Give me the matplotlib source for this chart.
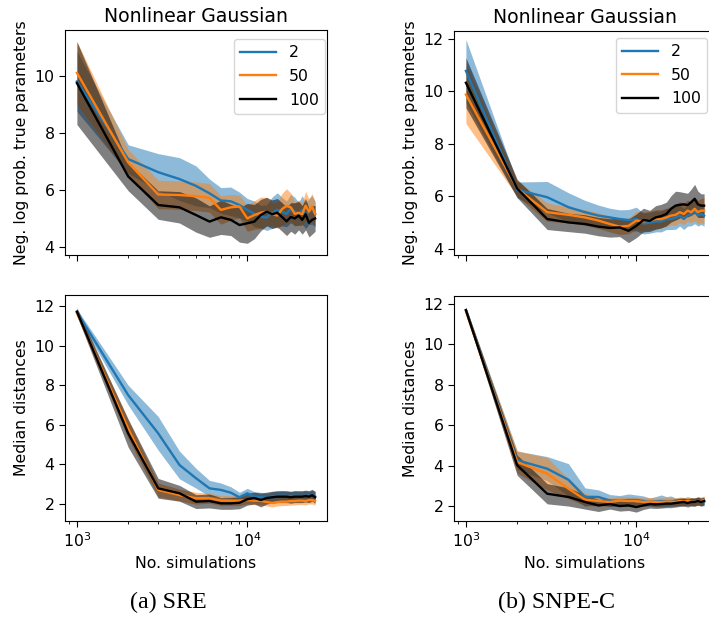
import numpy as np
import matplotlib
matplotlib.use('Agg')
import matplotlib.pyplot as plt

# numero de simulacoes (eixo x, log)
n_sims = [1000, 2000, 3000, 4000, 5000, 6000, 7000, 8000, 9000, 10000,
          11000, 12000, 13000, 14000, 15000, 16000, 17000, 18000, 19000,
          20000, 21000, 22000, 23000, 24000, 25000]
labels = ['2', '50', '100']

# SRE - neg. log prob. true parameters
sre_nlp_2 = [9.8, 7.08, 6.62, 6.38, 6.14, 5.88, 5.63, 5.6, 5.47, 5.3, 5.16, 5.06, 5.03,
             5.2, 5.3, 5.24, 5.16, 5.35, 5.24, 5.16, 5.3, 5.1, 5.24, 5.3, 5.16]
sre_nlp_2_sd = [1.05, 0.5, 0.65, 0.75, 0.7, 0.5, 0.45, 0.5, 0.45, 0.4, 0.45, 0.4, 0.45,
                0.55, 0.6, 0.5, 0.45, 0.5, 0.5, 0.4, 0.5, 0.45, 0.45, 0.5, 0.45]
sre_nlp_50 = [10.1, 6.96, 5.84, 5.82, 5.78, 5.72, 5.3, 5.39, 5.42, 5.0, 5.12, 5.2, 5.24,
              5.16, 5.1, 5.33, 5.44, 5.39, 5.16, 5.2, 5.15, 5.45, 5.24, 5.42, 5.16]
sre_nlp_50_sd = [1.1, 0.45, 0.5, 0.5, 0.5, 0.5, 0.5, 0.45, 0.4, 0.45, 0.5, 0.55, 0.5,
                 0.4, 0.45, 0.55, 0.6, 0.5, 0.4, 0.45, 0.4, 0.5, 0.45, 0.45, 0.4]
sre_nlp_100 = [9.74, 6.47, 5.47, 5.39, 5.12, 4.89, 5.04, 4.95, 4.77, 4.83, 4.89, 5.12, 5.24,
               5.15, 5.2, 5.05, 4.9, 5.05, 5.0, 5.1, 4.95, 5.15, 4.85, 4.95, 5.0]
sre_nlp_100_sd = [1.45, 0.5, 0.5, 0.55, 0.6, 0.55, 0.6, 0.55, 0.6, 0.7, 0.6, 0.55, 0.5,
                  0.5, 0.5, 0.5, 0.5, 0.5, 0.55, 0.5, 0.5, 0.55, 0.5, 0.5, 0.45]

# SNPE-C - neg. log prob. true parameters
snpe_nlp_2 = [10.78, 6.25, 5.97, 5.59, 5.4, 5.27, 5.2, 5.14, 5.1, 5.14, 4.97, 5.0, 5.05,
              5.05, 5.14, 5.14, 5.2, 5.27, 5.14, 5.27, 5.33, 5.46, 5.27, 5.33, 5.27]
snpe_nlp_2_sd = [1.2, 0.3, 0.6, 0.55, 0.45, 0.4, 0.35, 0.35, 0.4, 0.45, 0.4, 0.4, 0.4,
                 0.4, 0.4, 0.4, 0.45, 0.4, 0.4, 0.4, 0.45, 0.5, 0.4, 0.4, 0.4]
snpe_nlp_50 = [9.88, 6.3, 5.4, 5.3, 5.2, 5.08, 4.95, 4.85, 4.88, 5.08, 5.05, 5.08, 5.14,
               5.14, 5.2, 5.27, 5.3, 5.4, 5.33, 5.46, 5.4, 5.53, 5.4, 5.46, 5.46]
snpe_nlp_50_sd = [1.1, 0.3, 0.35, 0.3, 0.3, 0.3, 0.3, 0.3, 0.3, 0.35, 0.35, 0.35, 0.35,
                  0.35, 0.35, 0.35, 0.4, 0.4, 0.4, 0.4, 0.4, 0.45, 0.45, 0.45, 0.5]
snpe_nlp_100 = [10.33, 6.3, 5.14, 5.01, 4.95, 4.85, 4.8, 4.82, 4.69, 4.88, 5.1, 5.07, 5.2,
                5.25, 5.33, 5.53, 5.65, 5.68, 5.7, 5.67, 5.78, 5.91, 5.7, 5.65, 5.65]
snpe_nlp_100_sd = [0.95, 0.35, 0.4, 0.35, 0.35, 0.35, 0.35, 0.35, 0.45, 0.45, 0.45, 0.4, 0.45,
                   0.45, 0.45, 0.5, 0.55, 0.5, 0.45, 0.45, 0.5, 0.55, 0.5, 0.45, 0.45]

# SRE - median distances
sre_md_2 = [11.7, 7.5, 5.57, 3.97, 3.3, 2.79, 2.71, 2.57, 2.34, 2.54, 2.37, 2.34, 2.3,
            2.38, 2.4, 2.42, 2.4, 2.38, 2.42, 2.4, 2.4, 2.42, 2.4, 2.45, 2.38]
sre_md_2_sd = [0.15, 0.5, 0.85, 0.7, 0.5, 0.4, 0.35, 0.3, 0.25, 0.25, 0.25, 0.25, 0.25,
               0.25, 0.25, 0.25, 0.25, 0.25, 0.25, 0.25, 0.25, 0.25, 0.25, 0.25, 0.25]
sre_md_50 = [11.65, 5.8, 2.71, 2.45, 2.29, 2.29, 2.17, 2.17, 2.17, 2.2, 2.17, 2.15, 2.1,
             2.05, 2.1, 2.12, 2.12, 2.15, 2.15, 2.17, 2.17, 2.15, 2.2, 2.2, 2.15]
sre_md_50_sd = [0.15, 0.5, 0.35, 0.3, 0.3, 0.25, 0.25, 0.25, 0.25, 0.2, 0.2, 0.2, 0.2,
                0.2, 0.2, 0.2, 0.2, 0.2, 0.2, 0.2, 0.2, 0.2, 0.2, 0.2, 0.2]
sre_md_100 = [11.72, 5.57, 2.79, 2.54, 2.12, 2.15, 2.03, 2.03, 2.06, 2.24, 2.3, 2.2, 2.3,
              2.34, 2.37, 2.37, 2.37, 2.34, 2.37, 2.37, 2.37, 2.4, 2.37, 2.44, 2.34]
sre_md_100_sd = [0.2, 0.7, 0.5, 0.4, 0.35, 0.35, 0.3, 0.3, 0.3, 0.3, 0.3, 0.35, 0.3,
                 0.3, 0.3, 0.3, 0.3, 0.3, 0.3, 0.3, 0.3, 0.3, 0.3, 0.3, 0.3]

# SNPE-C - median distances
snpe_md_2 = [11.7, 4.27, 3.85, 3.3, 2.45, 2.45, 2.27, 2.27, 2.3, 2.3, 2.25, 2.2, 2.22,
             2.25, 2.22, 2.25, 2.2, 2.22, 2.2, 2.25, 2.22, 2.2, 2.25, 2.2, 2.22]
snpe_md_2_sd = [0.15, 0.45, 0.6, 0.8, 0.45, 0.35, 0.3, 0.25, 0.3, 0.25, 0.25, 0.2, 0.25,
                0.3, 0.25, 0.25, 0.2, 0.2, 0.2, 0.2, 0.2, 0.2, 0.2, 0.2, 0.2]
snpe_md_50 = [11.65, 4.18, 3.6, 2.86, 2.32, 2.25, 2.2, 2.27, 2.25, 2.25, 2.2, 2.22, 2.2,
              2.2, 2.22, 2.22, 2.2, 2.25, 2.22, 2.25, 2.22, 2.2, 2.25, 2.25, 2.3]
snpe_md_50_sd = [0.15, 0.55, 0.8, 0.5, 0.3, 0.25, 0.2, 0.2, 0.2, 0.2, 0.2, 0.2, 0.2,
                 0.2, 0.2, 0.2, 0.2, 0.2, 0.2, 0.2, 0.2, 0.2, 0.2, 0.2, 0.2]
snpe_md_100 = [11.7, 4.02, 2.61, 2.45, 2.2, 2.03, 2.1, 2.0, 2.03, 1.95, 2.03, 2.1, 2.08,
               2.1, 2.12, 2.12, 2.15, 2.18, 2.2, 2.15, 2.2, 2.2, 2.25, 2.2, 2.25]
snpe_md_100_sd = [0.15, 0.5, 0.5, 0.45, 0.35, 0.3, 0.25, 0.25, 0.25, 0.25, 0.2, 0.2, 0.2,
                  0.2, 0.2, 0.2, 0.2, 0.2, 0.2, 0.2, 0.2, 0.2, 0.2, 0.2, 0.2]

colors = ['#1f77b4', '#ff7f0e', 'black']

plt.rcParams['font.size'] = 11.3
plt.rcParams['xtick.major.size'] = 4
plt.rcParams['ytick.major.size'] = 4
plt.rcParams['xtick.minor.size'] = 2.3


def draw_panel(ax, means, sds):
    x = np.array(n_sims)
    for m, s, c, lab in zip(means, sds, colors, labels):
        m = np.array(m)
        s = np.array(s)
        ax.fill_between(x, m - s, m + s, color=c, alpha=0.5, lw=0)
        ax.plot(x, m, color=c, lw=1.7, label=lab)
    ax.set_xscale('log')


fig = plt.figure(figsize=(7.09, 6.17), dpi=100)

W, H = 709, 617
ax_tl = fig.add_axes([65 / W, (H - 255) / H, 262 / W, 225 / H])
ax_bl = fig.add_axes([65 / W, (H - 521) / H, 262 / W, 226 / H])
ax_tr = fig.add_axes([454 / W, (H - 255) / H, 262 / W, 224 / H])
ax_br = fig.add_axes([454 / W, (H - 521) / H, 262 / W, 225 / H])

draw_panel(ax_tl, [sre_nlp_2, sre_nlp_50, sre_nlp_100],
           [sre_nlp_2_sd, sre_nlp_50_sd, sre_nlp_100_sd])
draw_panel(ax_tr, [snpe_nlp_2, snpe_nlp_50, snpe_nlp_100],
           [snpe_nlp_2_sd, snpe_nlp_50_sd, snpe_nlp_100_sd])
draw_panel(ax_bl, [sre_md_2, sre_md_50, sre_md_100],
           [sre_md_2_sd, sre_md_50_sd, sre_md_100_sd])
draw_panel(ax_br, [snpe_md_2, snpe_md_50, snpe_md_100],
           [snpe_md_2_sd, snpe_md_50_sd, snpe_md_100_sd])

for ax in (ax_tl, ax_tr):
    ax.set_title('Nonlinear Gaussian')
    ax.set_ylabel('Neg. log prob. true parameters')
    ax.tick_params(axis='x', which='both', labelbottom=False)
for ax in (ax_bl, ax_br):
    ax.set_ylabel('Median distances')
    ax.set_xlabel('No. simulations')

ax_tl.set_ylim(3.72, 11.6)
ax_tl.set_yticks([4, 6, 8, 10])
ax_tr.set_ylim(3.77, 12.3)
ax_tr.set_yticks([4, 6, 8, 10, 12])
ax_bl.set_ylim(1.14, 12.56)
ax_bl.set_yticks([2, 4, 6, 8, 10, 12])
ax_br.set_ylim(1.26, 12.4)
ax_br.set_yticks([2, 4, 6, 8, 10, 12])

ax_tl.legend(loc='upper right', bbox_to_anchor=(0.992, 0.96), borderaxespad=0,
             handlelength=2.3, labelspacing=0.55)
ax_tr.legend(loc='upper right', bbox_to_anchor=(0.966, 0.969), borderaxespad=0,
             handlelength=2.3, labelspacing=0.55)

fig.text(168 / W, 1 - 602 / H, '(a) SRE', family='Liberation Serif',
         fontsize=17.3, ha='center', va='center')
fig.text(557 / W, 1 - 602 / H, '(b) SNPE-C', family='Liberation Serif',
         fontsize=17.3, ha='center', va='center')

plt.savefig('out.png', dpi=100)
